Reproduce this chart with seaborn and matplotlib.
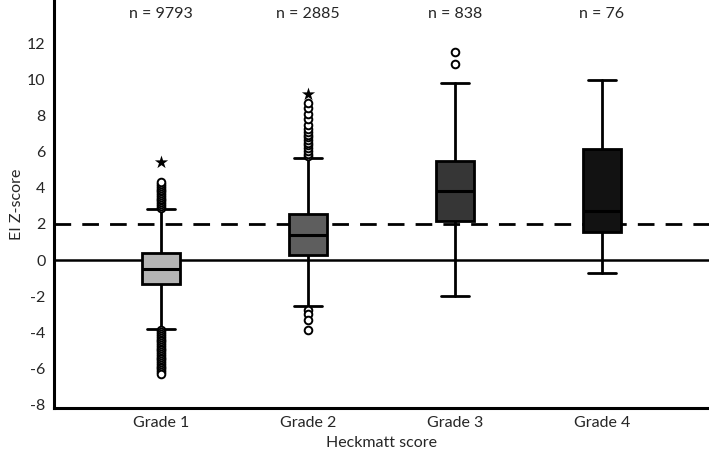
import matplotlib
matplotlib.use('Agg')
import matplotlib.pyplot as plt
import seaborn as sns
import pandas as pd

# Box statistics
grades = ['Grade 1', 'Grade 2', 'Grade 3', 'Grade 4']
counts = [9793, 2885, 838, 76]
q1 = [-1.34, 0.26, 2.19, 1.58]
median = [-0.51, 1.38, 3.85, 2.74]
q3 = [0.37, 2.54, 5.49, 6.15]
whisk_lo = [-3.81, -2.52, -1.97, -0.70]
whisk_hi = [2.82, 5.64, 9.82, 9.98]
box_colors = ['#b5b5b5', '#5e5e5e', '#363636', '#121212']

# outliers (circles) and extremes (stars)
out_g1 = [2.9, 3.0, 3.1, 3.2, 3.3, 3.4, 3.5, 3.6, 3.7, 3.8, 3.9, 4.0, 4.1, 4.2, 4.3,
          -3.9, -4.0, -4.1, -4.2, -4.3, -4.4, -4.5, -4.6, -4.7, -4.8, -4.9, -5.0,
          -5.1, -5.2, -5.3, -5.4, -5.5, -5.6, -5.7, -5.8, -5.9, -6.0, -6.1, -6.2, -6.3]
out_g2 = [5.75, 5.9, 6.05, 6.2, 6.35, 6.5, 6.65, 6.8, 6.95, 7.1, 7.25, 7.5, 7.8, 8.1,
          8.4, 8.7, -2.75, -3.0, -3.3, -3.9]
out_g3 = [10.85, 11.5]
star_grades = ['Grade 1', 'Grade 2']
star_values = [5.41, 9.2]

sns.set_style('white')
plt.rcParams['font.family'] = ['Lato', 'DejaVu Sans']
plt.rcParams['axes.unicode_minus'] = False

fig = plt.figure(figsize=(7.09, 4.54), dpi=100)
ax = fig.add_axes([0.076, 0.101, 0.924, 0.899])

stats = []
for i, g in enumerate(grades):
    stats.append({'label': g, 'q1': q1[i], 'med': median[i], 'q3': q3[i],
                  'whislo': whisk_lo[i], 'whishi': whisk_hi[i], 'fliers': []})

ax.axhline(0, color='black', lw=1.8, zorder=1)
ax.axhline(2, color='black', lw=2, ls=(0, (6, 4)), zorder=1)

bp = ax.bxp(stats, positions=range(4), widths=0.26, patch_artist=True,
            showfliers=False,
            boxprops=dict(lw=2, edgecolor='black'),
            medianprops=dict(color='black', lw=2.2),
            whiskerprops=dict(color='black', lw=2),
            capprops=dict(color='black', lw=2),
            capwidths=0.19)
for patch, c in zip(bp['boxes'], box_colors):
    patch.set_facecolor(c)
    patch.set_zorder(3)
for m in bp['medians']:
    m.set_zorder(4)

outliers = pd.DataFrame({
    'grade': ['Grade 1'] * len(out_g1) + ['Grade 2'] * len(out_g2) + ['Grade 3'] * len(out_g3),
    'value': out_g1 + out_g2 + out_g3,
})
sns.stripplot(data=outliers, x='grade', y='value', order=grades, jitter=False,
              marker='o', size=5.5, color='white', edgecolor='black', linewidth=1.4,
              ax=ax, zorder=5)
stars = pd.DataFrame({'grade': star_grades, 'value': star_values})
sns.stripplot(data=stars, x='grade', y='value', order=grades, jitter=False,
              marker='*', size=10, color='black', ax=ax, zorder=5)

for i, n in enumerate(counts):
    ax.text(i, 13.6, f'n = {n}', ha='center', va='center', fontsize=11.5)

ax.set_xlim(-0.73, 3.73)
ax.set_ylim(-8.2, 14.4)
ax.set_yticks(range(-8, 13, 2))
ax.set_xticks(range(4))
ax.set_xticklabels(grades)
ax.tick_params(axis='both', length=0, labelsize=11.5, pad=6)
ax.set_xlabel('Heckmatt score', fontsize=11.5, labelpad=4)
ax.set_ylabel('EI Z-score', fontsize=11.5)
ax.yaxis.set_label_coords(-0.045, 0.5)
sns.despine(ax=ax)
for side in ['left', 'bottom']:
    ax.spines[side].set_linewidth(2.2)
    ax.spines[side].set_color('black')

fig.savefig('out.png', dpi=100)
